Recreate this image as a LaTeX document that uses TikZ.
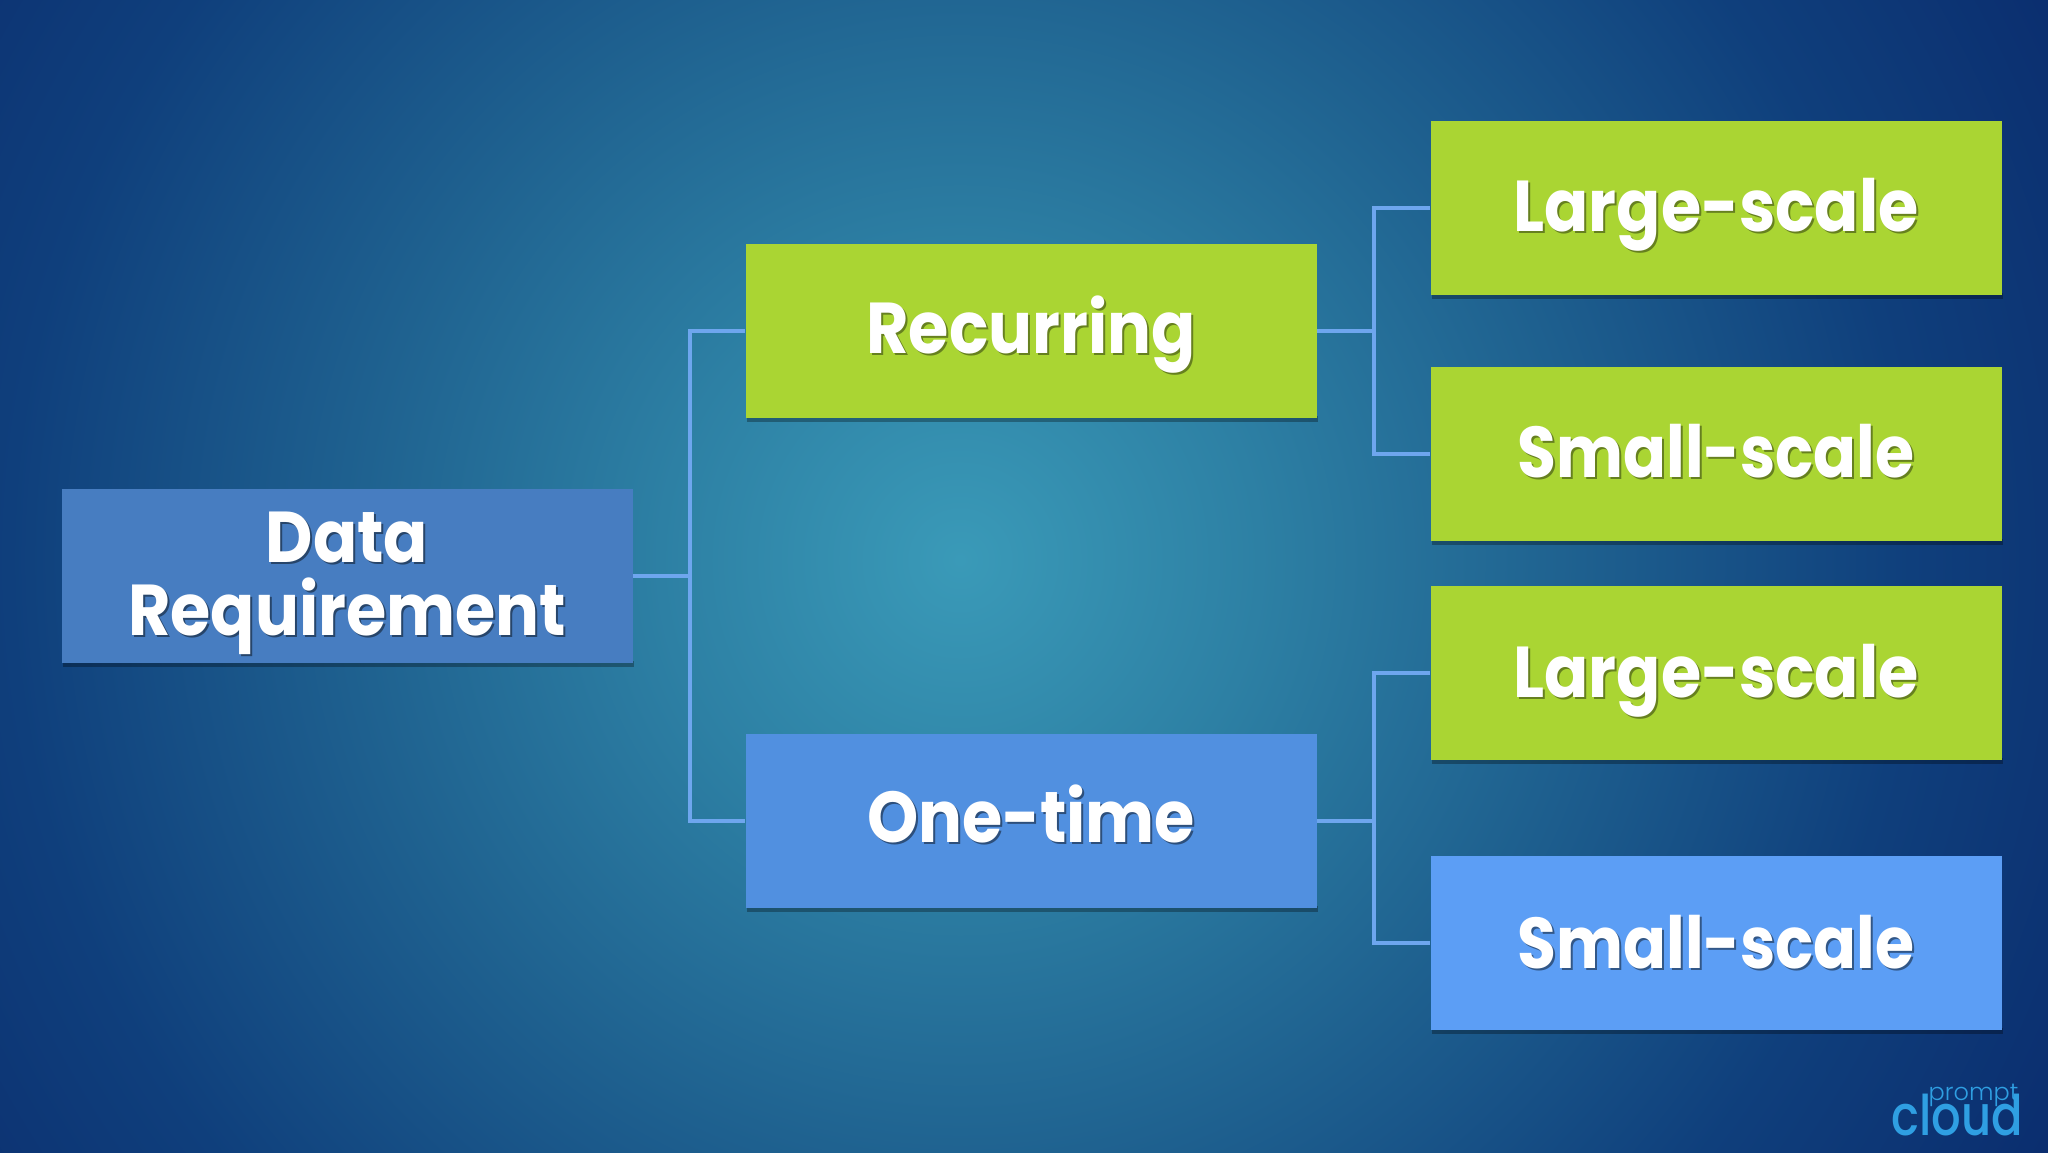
\documentclass[tikz,border=0pt]{standalone}
\usepackage{fontspec}
\usepackage{graphicx}
\setmainfont{Poppins}[UprightFont=* Bold,BoldFont=* Bold,FakeStretch=0.905]
\newfontfamily\logomain{Poppins Medium}[FakeStretch=0.83]
\newfontfamily\logothin{Poppins Light}
\definecolor{bgA}{HTML}{3A9AB8}
\definecolor{bgB}{HTML}{2D80A4}
\definecolor{bgC}{HTML}{1F6290}
\definecolor{bgD}{HTML}{0F3F7C}
\definecolor{bgE}{HTML}{0A2A6C}
\definecolor{dataBlue}{HTML}{477DC1}
\definecolor{limeBox}{HTML}{AAD533}
\definecolor{oneBlue}{HTML}{5190E0}
\definecolor{smallBlue}{HTML}{5C9EF5}
\definecolor{connBlue}{HTML}{6EA6EE}
\definecolor{logoBlue}{HTML}{2F9FE2}
\pgfdeclareradialshading{bgrad}{\pgfpoint{0bp}{0bp}}{%
 color(0bp)=(bgA); color(6bp)=(bgB); color(12bp)=(bgC); color(19bp)=(bgD); color(26bp)=(bgE); color(50bp)=(bgE)}
\newcommand{\shtxt}[2]{\rlap{\hspace{2pt}\raisebox{-2pt}{\textcolor{#2}{#1}}}#1}
\newcommand{\lbl}[3]{\makebox[0pt]{\raisebox{#1}[0pt][0pt]{\shtxt{#2}{#3}}}}
\newcommand{\nrw}[1]{\scalebox{0.97}[1]{#1}}
\tikzset{
 box/.style={rectangle,minimum width=571pt,minimum height=174pt,inner sep=0pt,align=center,text=white,
  font=\fontsize{72}{73}\selectfont},
 shadowbox/.style={fill=black,opacity=.3},
 conn/.style={draw=connBlue,line width=4pt,line join=miter},
}
\begin{document}
\begin{tikzpicture}[x=1pt,y=-1pt]
\useasboundingbox (0,0) rectangle (2048,1152);
\clip (0,0) rectangle (2048,1152);
\shade[shading=bgrad] (960,560) circle[radius=1250];
\coordinate (j1) at (690,576);
\coordinate (j2) at (1374,331);
\coordinate (j3) at (1374,821);
\foreach \cx/\cy in {347/576,1031/331,1031/821,1716/208,1716/454,1716/673,1716/943}
  \fill[shadowbox] (\cx-285.5+1,\cy+87-2) rectangle (\cx+285.5+1,\cy+87+4);
\node[box,fill=dataBlue] (data) at (347,576) {\lbl{14pt}{Data}{black!45!dataBlue}\lbl{-59pt}{Requirement}{black!45!dataBlue}};
\node[box,fill=limeBox] (rec) at (1031,331) {\lbl{-22pt}{Recurring}{black!40!limeBox}};
\node[box,fill=oneBlue] (one) at (1031,821) {\lbl{-21pt}{One-time}{black!45!oneBlue}};
\node[box,fill=limeBox] (l1) at (1716,208) {\lbl{-23pt}{Large-scale}{black!40!limeBox}};
\node[box,fill=limeBox] (s1) at (1716,454) {\lbl{-23pt}{\nrw{Small-scale}}{black!40!limeBox}};
\node[box,fill=limeBox] (l2) at (1716,673) {\lbl{-24pt}{Large-scale}{black!40!limeBox}};
\node[box,fill=smallBlue] (s2) at (1716,943) {\lbl{-25pt}{\nrw{Small-scale}}{black!45!smallBlue}};
\draw[conn] (data.east) -- (j1);
\draw[conn] (rec.east) -- (j2);
\draw[conn] (one.east) -- (j3);
\draw[conn] (j1) |- (rec.west);
\draw[conn] (j1) |- (one.west);
\draw[conn] (j2) |- (l1.west);
\draw[conn] (j2) |- (s1.west);
\draw[conn] (j3) |- (l2.west);
\draw[conn] (j3) |- (s2.west);
\node[inner sep=0pt,text=logoBlue,font=\logomain\fontsize{56}{56}\selectfont,anchor=base] (logoA) at (1957.5,1135) {cloud};
\node[inner sep=0pt,text=logoBlue,font=\logothin\fontsize{24}{24}\selectfont,anchor=base] (logoB) at (1973.5,1100) {prompt};
\end{tikzpicture}
\end{document}
